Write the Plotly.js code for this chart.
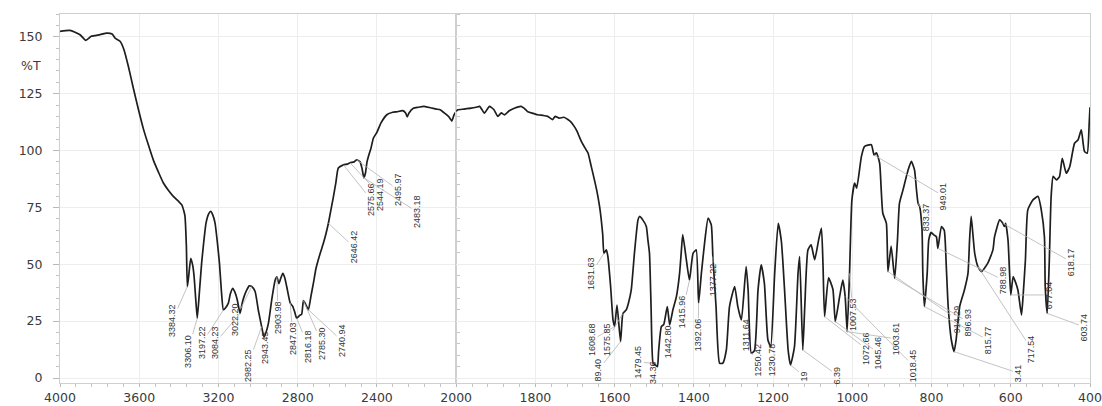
<!DOCTYPE html>
<html>
<head>
<meta charset="utf-8">
<script src="https://cdn.plot.ly/plotly-3.0.1.min.js"></script>
<style>html,body{margin:0;padding:0;background:#fff;}#chart{width:1102px;height:406px;}</style>
</head>
<body>
<div id="chart"></div>
<script>
// ---- Spectrum data: 4000-2000 cm-1 region ----
const wavenumberHigh = [
 4000,3950,3899,3870,3842,3798,3764,3737,3722,3697,
 3677,3655,3630,3604,3579,3554,3529,3503,3478,3453,
 3428,3400,3385,3375,3369,3362,3357,3350,3340,3330,
 3323,3315,3307,3296,3285,3274,3263,3250,3239,3228,
 3217,3206,3195,3185,3175,3163,3150,3140,3128,3116,
 3105,3091,3080,3070,3057,3045,3032,3015,2999,2982,
 2970,2960,2948,2930,2914,2905,2895,2885,2875,2865,
 2855,2838,2825,2815,2805,2790,2780,2771,2763,2746,
 2733,2720,2708,2696,2682,2670,2657,2645,2632,2620,
 2607,2595,2569,2550,2536,2515,2502,2485,2475,2466,
 2458,2450,2443,2430,2418,2400,2380,2350,2320,2300,
 2270,2255,2247,2238,2216,2190,2165,2130,2100,2081,
 2060,2039,2030,2022,2010,2000];
const transmittanceHigh = [
 152.4,152.8,150.9,148.4,150.2,150.9,151.6,151.2,149.4,148,
 144.3,137,127.5,118,109.5,102.5,95.9,90.5,85.7,82.5,
 79.8,77.5,76.1,73.5,71,58,40.2,45,52.6,49.5,
 44.6,35,26.3,38,50.5,60,68,72,73.2,71.5,
 68,60,50.5,38,29.9,31,32.9,37,39.4,37.5,
 34.3,28.4,33,36,38.7,40.5,40.2,38,29.9,22.6,
 18,20,24,35,43,44.5,41.5,44,46,44,
 40,33,31.5,29,26.3,27.5,28,34,33,30,
 36,42,48,52,56,59.3,63.5,68,74,79.5,
 86,92.3,93.7,94,94.6,95,95.9,95,92,88,
 90,95,97.4,101,105.4,108,112,115.7,116.8,117,
 117.5,116.5,114.8,116.5,118.6,119,119.4,118.8,118.2,117.9,
 116.5,115,114,112.9,115.8,117.2];

// ---- Spectrum data: 2000-400 cm-1 region ----
const wavenumberLow = [
 2000,1996,1980,1962,1950,1941,1935,1929,1922,1916,
 1905,1895,1886,1878,1866,1853,1836,1828,1819,1805,
 1794,1780,1769,1757,1750,1740,1728,1718,1710,1702,
 1695,1689,1684,1676,1667,1659,1651,1644,1638,1634,
 1630,1627,1621,1617,1610,1604,1600,1594,1585,1579,
 1571,1565,1558,1550,1541,1537,1529,1520,1516,1512,
 1508,1503,1499,1492,1489,1482,1476,1467,1461,1453,
 1444,1436,1432,1428,1419,1411,1402,1394,1388,1381,
 1373,1364,1356,1352,1344,1335,1327,1318,1310,1297,
 1289,1280,1268,1263,1255,1247,1238,1230,1222,1213,
 1206,1196,1187,1179,1171,1162,1156,1146,1137,1133,
 1125,1120,1112,1104,1095,1085,1078,1074,1070,1060,
 1049,1043,1032,1024,1018,1013,1007,1001,994,989,
 977,969,952,945,939,931,927,923,914,910,
 902,893,886,881,872,859,851,843,838,834,
 830,824,822,818,811,807,801,795,788,784,
 775,768,763,758,750,743,738,729,717,708,
 704,700,695,691,683,674,658,645,641,628,
 620,616,613,607,603,600,594,590,582,573,
 569,563,557,544,531,523,515,513,508,503,
 498,493,485,477,470,460,451,439,430,422,
 414,407,402,400];
const transmittanceLow = [
 117.2,117.9,118.2,118.6,119,119.4,118,116.4,118,119.4,
 118,115,116.5,115.7,117.5,118.6,119.4,118.5,117,116.3,
 115.7,115.4,115,113.6,115,114.2,114.6,113.6,112.5,110.6,
 108.5,106,104,101.5,98.8,93,87.1,81.5,75.4,70,
 63,54.8,56.3,53.4,40,25.5,22.6,32,16,28.4,
 29.9,33,38.7,54.8,69.5,71,69.5,66.6,60.7,54.8,
 31.4,6.5,6,5,11.7,22.6,23.5,31.4,23.3,29.9,
 35.8,46,54.8,63,52,43,54.8,56.3,33,46,
 59.2,70.3,67.3,53.4,31.4,6.5,6.5,12.3,31.4,40.2,
 31.4,25.5,49,38.7,10.9,12,38.7,49.7,41.7,16.7,
 13.8,46,68,60,38.7,12.3,5.7,13.8,46,53.4,
 12.3,31.4,56.3,58.5,52,60.7,65.9,50,27,44,
 39,24.8,35.8,43,35.8,20.4,46,78.3,85.7,83.5,
 97.4,101.8,102.5,98,99,94.4,82.7,72.4,68,46.8,
 58,43.8,60.7,76.8,82.7,91.5,95.2,91.5,82.7,76.8,
 75.4,65,46,31.4,46,60.7,64,63,62.2,57,
 66.6,65,50,31.4,16.7,11.6,16.7,31.4,38.7,46,
 60.7,71,62,54.8,49,46.8,50.5,56.3,62,69.5,
 68,66.6,68,60.7,46,36.5,44.6,43,38.7,27.7,
 35.8,52,73.9,78.3,79.8,73.9,62,40,28.4,50,
 80,88.6,87.1,88.5,96.6,90,93,103.2,104.7,109.1,
 99.6,98.8,112,119];

// ---- Axis ticks ----
const xTicksHigh = [4000,3600,3200,2800,2400];
const xTicksLow = [2000,1800,1600,1400,1200,1000,800,600,400];
const yTicks = [0,25,50,75,100,125,150];
const yAxisUnit = '%T';

// ---- Peak labels (text, label position, peak it points to) ----
const peakText = [
 '3384.32','3306.10','3197.22','3084.23','3022.20','2982.25','2943.45','2903.98','2847.03','2816.18',
 '2785.30','2740.94','2646.42','2575.66','2544.19','2495.97','2483.18',
 '1631.63','1608.68','89.40','1575.85','1479.45','34.36','1442.80','1415.96','1392.06',
 '1377.22','1311.64','1250.42','1230.78','19','6.39','1007.53','1072.66','1045.46','1003.61',
 '1018.45','949.01','833.37','914.29','896.93','815.77','788.98','3.41','717.54','677.04',
 '618.17','603.74'];
const peakLabelX = [
 3434,3354,3283,3217,3116,3051,2965,2899,2823,2748,
 2677,2576,2515,2429,2384,2293,2197,
 1659,1657,1641,1619,1540,1503,1465,1429,1389,
 1351,1268,1237,1202,1121,1038,998,965,934,889,
 846,770,813,737,707,657,619,581,548,503,
 447,414];
const peakLabelY = [
 25.1,11.9,15.4,15.4,25.5,5.7,13.2,26.4,17.2,14.1,
 15,16.3,57.5,78.3,80.5,82.7,73,
 45.8,16.7,3.5,16.7,7,2.2,15.8,29,18.9,
 43.1,18.9,7.9,7.9,0.8,1.2,27.7,12.8,11,17.2,
 5.3,80,70.8,26,24.6,16.7,43.1,2.2,12.8,36.5,
 51,22.4];
const peakX = [
 3357,3307,3175,3091,3032,2982,2970,2905,2838,2805,
 2771,2746,2645,2569,2536,2502,2466,
 1627,1600,1585,1579,1503,1492,1461,1411,1388,
 1352,1280,1255,1206,1156,1125,1007,1070,1043,1013,
 1018,945,834,910,893,818,784,743,683,600,
 620,508];
const peakY = [
 40.2,26.3,29.9,28.4,40.2,22.6,18,44.5,33,26.3,
 34,30,68,93.7,94.6,95.9,88,
 54.8,22.6,16,28.4,6.5,5,23.3,43,33,
 53.4,25.5,10.9,13.8,5.7,12.3,46,27,24.8,20.4,
 35.8,98,76.8,46.8,43.8,31.4,57,11.6,49,36.5,
 68,28.4];

const tickFont = {family: 'DejaVu Sans, Arial, sans-serif', size: 12.5, color: '#3a3a3a'};
const lineStyle = {color: '#1e1e1e', width: 1.7, shape: 'spline', smoothing: 0.5};

const traces = [
  {type: 'scatter', mode: 'lines', x: wavenumberHigh, y: transmittanceHigh,
   xaxis: 'x', yaxis: 'y', line: lineStyle, hoverinfo: 'x+y'},
  {type: 'scatter', mode: 'lines', x: wavenumberLow, y: transmittanceLow,
   xaxis: 'x2', yaxis: 'y', line: lineStyle, hoverinfo: 'x+y'}
];

const annotations = peakText.map(function (t, i) {
  const ref = peakLabelX[i] > 2000 ? 'x' : 'x2';
  return {
    text: t, xref: ref, yref: 'y', axref: ref, ayref: 'y',
    x: peakX[i], y: peakY[i], ax: peakLabelX[i], ay: peakLabelY[i],
    showarrow: true, arrowhead: 0, arrowwidth: 0.8, arrowcolor: '#b4b4b4',
    textangle: -90, font: {family: 'Liberation Sans, Arial, sans-serif', size: 9, color: '#333'},
    borderpad: 0
  };
});
annotations.push({
  text: yAxisUnit, xref: 'paper', yref: 'y', x: 0, y: 137.5,
  xanchor: 'right', yanchor: 'middle', xshift: -17, showarrow: false, font: tickFont
});

const axisCommon = {
  showline: true, linecolor: '#cfcfcf', linewidth: 1, mirror: true,
  showgrid: true, gridcolor: '#ededed', gridwidth: 1, zeroline: false,
  ticks: 'outside', ticklen: 3, tickcolor: '#b8b8b8', tickfont: tickFont,
  fixedrange: true
};

const layout = {
  width: 1102, height: 406,
  margin: {l: 60, r: 12, t: 14, b: 23},
  paper_bgcolor: '#ffffff', plot_bgcolor: '#ffffff',
  showlegend: false,
  xaxis: Object.assign({}, axisCommon, {
    domain: [0, 5 / 13], range: [4000, 2000], anchor: 'y',
    tickmode: 'array', tickvals: xTicksHigh, ticktext: xTicksHigh.map(String),
    minor: {ticks: 'outside', ticklen: 3, tickcolor: '#c4c4c4', tickmode: 'linear', tick0: 2000, dtick: 80, showgrid: false}
  }),
  xaxis2: Object.assign({}, axisCommon, {
    domain: [5 / 13, 1], range: [2000, 400], anchor: 'y',
    tickmode: 'array', tickvals: xTicksLow, ticktext: xTicksLow.map(String),
    minor: {ticks: 'outside', ticklen: 3, tickcolor: '#c4c4c4', tickmode: 'linear', tick0: 400, dtick: 40, showgrid: false}
  }),
  yaxis: Object.assign({}, axisCommon, {
    range: [-2.2, 160], anchor: 'x', mirror: 'all',
    tickmode: 'array', tickvals: yTicks, ticktext: yTicks.map(String),
    ticklen: 6, ticklabelstandoff: 8,
    minor: {ticks: 'outside', ticklen: 3, tickcolor: '#c4c4c4', tickmode: 'linear', tick0: 0, dtick: 5, showgrid: false}
  }),
  shapes: [{
    type: 'line', xref: 'x2', yref: 'paper', x0: 2000, x1: 2000, y0: 0, y1: 1,
    line: {color: '#9a9a9a', width: 1.3}, layer: 'below'
  }],
  annotations: annotations
};

Plotly.newPlot('chart', traces, layout, {displayModeBar: false, staticPlot: true});
</script>
</body>
</html>
